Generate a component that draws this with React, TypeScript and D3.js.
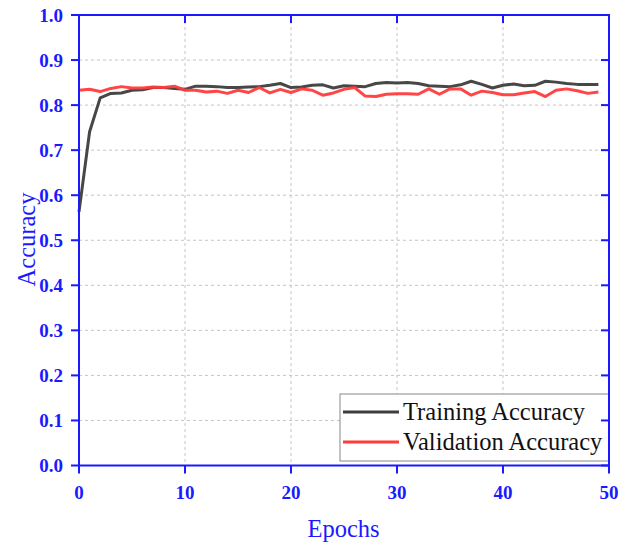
import React from "react";
import * as d3 from "d3";

// Per-epoch accuracy values (epochs 0..49)
const epochs: number[] = d3.range(0, 50);
const trainingAccuracy: number[] = [
  0.563, 0.741, 0.816, 0.826, 0.827, 0.833, 0.834, 0.839, 0.839, 0.837,
  0.835, 0.842, 0.842, 0.841, 0.839, 0.839, 0.840, 0.841, 0.844, 0.848,
  0.839, 0.840, 0.844, 0.845, 0.838, 0.843, 0.842, 0.841, 0.848, 0.850,
  0.849, 0.850, 0.848, 0.843, 0.842, 0.841, 0.845, 0.853, 0.846, 0.838,
  0.844, 0.847, 0.843, 0.844, 0.853, 0.851, 0.848, 0.846, 0.846, 0.846,
];
const validationAccuracy: number[] = [
  0.833, 0.835, 0.830, 0.837, 0.841, 0.838, 0.838, 0.840, 0.839, 0.842,
  0.833, 0.833, 0.829, 0.831, 0.826, 0.833, 0.828, 0.839, 0.827, 0.835,
  0.828, 0.836, 0.833, 0.822, 0.827, 0.835, 0.839, 0.820, 0.819, 0.824,
  0.825, 0.825, 0.824, 0.836, 0.824, 0.836, 0.836, 0.822, 0.831, 0.828,
  0.823, 0.823, 0.827, 0.830, 0.819, 0.833, 0.836, 0.832, 0.826, 0.829,
];
const xTicks: number[] = [0, 10, 20, 30, 40, 50];
const yTicks: number[] = [0, 0.1, 0.2, 0.3, 0.4, 0.5, 0.6, 0.7, 0.8, 0.9, 1.0];
const seriesNames: string[] = ["Training Accuracy", "Validation Accuracy"];

const BLUE = "#1a1aff";
const FONT = "'Liberation Serif', 'Times New Roman', serif";

export default function App() {
  const width = 633;
  const height = 548;
  const left = 79;
  const right = 609;
  const top = 15;
  const bottom = 465.5;

  const x = d3.scaleLinear().domain([0, 50]).range([left, right]);
  const y = d3.scaleLinear().domain([0, 1]).range([bottom, top]);

  const line = d3
    .line<number>()
    .x((_, i) => x(epochs[i]))
    .y((d) => y(d));

  const series = [
    { name: seriesNames[0], values: trainingAccuracy, color: "#3d3d3d" },
    { name: seriesNames[1], values: validationAccuracy, color: "#ff3b3b" },
  ];

  const legendX = 340;
  const legendY = 394;

  return (
    <svg
      width={width}
      height={height}
      style={{ position: "absolute", left: 0, top: 0, background: "#fff" }}
    >
      {/* grid */}
      <g stroke="#c4c4c4" strokeWidth={1} strokeDasharray="3,3">
        {xTicks.slice(1, -1).map((t) => (
          <line key={"gx" + t} x1={x(t)} x2={x(t)} y1={top} y2={bottom} />
        ))}
        {yTicks.slice(1, -1).map((t) => (
          <line key={"gy" + t} x1={left} x2={right} y1={y(t)} y2={y(t)} />
        ))}
      </g>

      {/* lines */}
      {series.map((s) => (
        <path
          key={s.name}
          d={line(s.values) || ""}
          fill="none"
          stroke={s.color}
          strokeWidth={3}
          strokeLinejoin="round"
          strokeOpacity={0.95}
        />
      ))}

      {/* legend */}
      <rect
        x={legendX}
        y={legendY}
        width={right - legendX}
        height={67}
        fill="#fff"
        stroke="#888"
        strokeWidth={1}
      />
      {series.map((s, i) => (
        <g key={"lg" + s.name}>
          <line
            x1={legendX + 3}
            x2={legendX + 59}
            y1={legendY + 18 + i * 30}
            y2={legendY + 18 + i * 30}
            stroke={s.color}
            strokeWidth={3}
          />
          <text
            x={legendX + 63}
            y={legendY + 26 + i * 30}
            fontFamily={FONT}
            fontSize={24.5}
            fill="#111"
          >
            {s.name}
          </text>
        </g>
      ))}

      {/* axes frame */}
      <g stroke={BLUE} strokeWidth={2} fill="none">
        <rect x={left} y={top} width={right - left} height={bottom - top} />
        {xTicks.map((t) => (
          <g key={"tx" + t}>
            <line x1={x(t)} x2={x(t)} y1={bottom} y2={bottom + 8} />
            <line x1={x(t)} x2={x(t)} y1={top} y2={top + 8} />
          </g>
        ))}
        {yTicks.map((t) => (
          <g key={"ty" + t}>
            <line x1={left - 8} x2={left} y1={y(t)} y2={y(t)} />
            <line x1={right - 8} x2={right} y1={y(t)} y2={y(t)} />
          </g>
        ))}
      </g>

      {/* tick labels */}
      <g fontFamily={FONT} fontWeight="bold" fontSize={19} fill={BLUE}>
        {xTicks.map((t) => (
          <text key={"lx" + t} x={x(t)} y={bottom + 33} textAnchor="middle">
            {t}
          </text>
        ))}
        {yTicks.map((t) => (
          <text
            key={"ly" + t}
            x={left - 16}
            y={y(t)}
            textAnchor="end"
            dominantBaseline="central"
          >
            {d3.format(".1f")(t)}
          </text>
        ))}
      </g>

      {/* axis titles */}
      <text
        x={343.5}
        y={537}
        textAnchor="middle"
        fontFamily={FONT}
        fontSize={24.5}
        fill={BLUE}
      >
        Epochs
      </text>
      <text
        transform={`translate(35, 239.5) rotate(-90)`}
        textAnchor="middle"
        fontFamily={FONT}
        fontSize={24.5}
        fill={BLUE}
      >
        Accuracy
      </text>
    </svg>
  );
}
